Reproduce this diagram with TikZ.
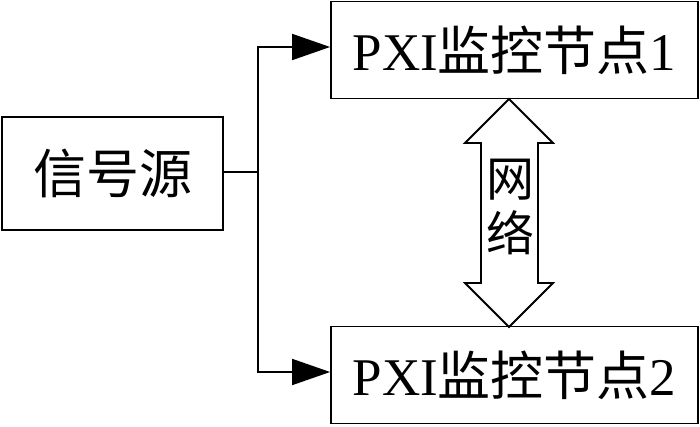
\documentclass[tikz,border=0pt]{standalone}
\usepackage{fontspec}
\setmainfont{Liberation Serif}
\newfontfamily\cjk{Noto Sans CJK SC}
\usetikzlibrary{arrows.meta}
\tikzset{
  box/.style={draw, line width=1.8pt, inner sep=0pt},
  lbl/.style={font=\fontsize{53}{58}\selectfont, inner sep=0pt},
  conn/.style={line width=1.8pt},
  tip/.style={-{Triangle[length=38pt,width=26pt]}}
}
\begin{document}
\begin{tikzpicture}[x=1pt,y=-1pt]
\useasboundingbox (0,0) rectangle (700,427);
% boxes
\node[box, minimum width=221pt, minimum height=113pt] (src) at (112.5,173.5) {};
\node[lbl] at (src.center) {\cjk 信号源};
\node[box, minimum width=367pt, minimum height=97pt] (n1) at (514.5,50) {};
\node[lbl] at (n1.center) {PXI{\cjk 监控节点}1};
\node[box, minimum width=367pt, minimum height=97pt] (n2) at (514.5,375) {};
\node[lbl] at (n2.center) {PXI{\cjk 监控节点}2};
% connectors
\coordinate (j) at (258,172);
\draw[conn] (src.east |- j) -- (j);
\draw[conn, tip] (j) |- (n1.west |- 0,47);
\draw[conn, tip] (j) |- (n2.west |- 0,372);
% network double arrow
\draw[line width=1.8pt, fill=white, line join=miter]
  (509,99) -- (553,143) -- (538,143) -- (538,283) -- (553,283) -- (509,327)
  -- (465,283) -- (481,283) -- (481,143) -- (465,143) -- cycle;
\node[font=\fontsize{48}{55}\selectfont, align=center, inner sep=0pt] (net) at (510,207) {\cjk 网\\\cjk 络};
\end{tikzpicture}
\end{document}
